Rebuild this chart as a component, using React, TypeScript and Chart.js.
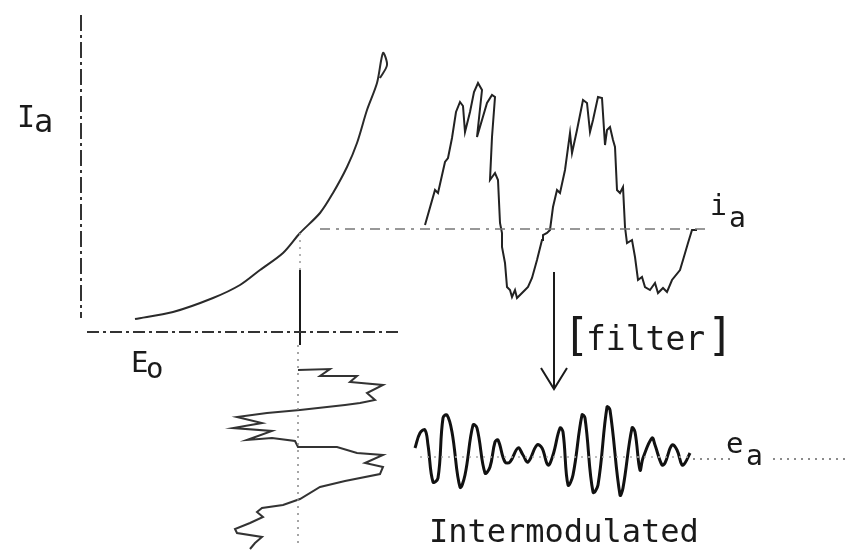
import React, { useEffect, useRef } from "react";
import { Chart, registerables } from "chart.js";

Chart.register(...registerables);

// ---------- DATA (diagram units) ----------
// Anode characteristic: anode voltage E vs anode current I
const ivE = [5.4, 9.2, 13.2, 15.9, 17.9, 20.2, 21.9, 23.9, 25.2, 26.6, 27.6, 28.6, 29.6, 30.2, 30.6, 29.9];
const ivI = [1.3, 2.0, 3.4, 4.7, 6.2, 7.9, 9.9, 11.9, 13.9, 16.5, 18.9, 22.2, 24.9, 27.9, 26.7, 25.4];

// Anode current waveform i_a (time, deviation)
const iaT = [0.0, 1.0, 1.3, 2.0, 2.3, 2.7, 3.1, 3.5, 3.8, 4.0, 4.5, 4.9, 5.3, 5.7, 5.2, 6.2, 6.7, 7.0, 6.7, 6.5, 7.0, 7.3, 7.5, 7.7, 7.7, 8.0, 8.2, 8.5, 8.7, 9.0, 9.2, 9.7, 10.0, 10.3, 10.7, 11.2, 11.7, 11.8, 12.2, 12.5, 12.8, 13.2, 13.5, 14.0, 14.5, 14.7, 15.2, 15.8, 16.2, 16.5, 16.8, 17.3, 17.7, 18.0, 18.2, 18.5, 18.8, 19.0, 19.2, 19.5, 19.8, 20.0, 20.2, 20.7, 21.0, 21.3, 21.7, 22.0, 22.5, 23.0, 23.3, 23.8, 24.2, 24.7, 25.5, 25.8, 26.3, 26.7, 27.2];
const iaV = [0.4, 3.9, 3.6, 6.7, 7.1, 9.1, 11.7, 12.7, 12.3, 9.7, 11.7, 13.7, 14.6, 13.9, 9.2, 12.6, 13.4, 13.2, 9.2, 4.9, 5.6, 4.9, 0.6, -0.4, -1.8, -3.4, -5.8, -6.1, -6.8, -6.1, -6.9, -6.4, -6.1, -5.8, -4.9, -3.1, -1.1, -0.6, -0.4, -0.1, 2.2, 3.9, 3.6, 5.9, 9.6, 7.6, 9.9, 12.9, 12.6, 9.7, 10.9, 13.2, 13.1, 8.4, 9.9, 10.2, 8.9, 8.2, 3.9, 3.6, 4.2, 0.2, -1.4, -1.1, -2.8, -5.1, -4.8, -5.8, -6.1, -5.4, -6.4, -5.9, -6.3, -5.1, -4.1, -3.1, -1.4, -0.1, -0.1];

// Input grid signal (time downward, deviation sideways)
const inT = [3.0, 2.9, 3.6, 3.6, 4.2, 4.5, 5.3, 6.0, 6.3, 6.5, 7.0, 7.3, 7.7, 8.3, 8.8, 9.1, 10.0, 9.8, 10.1, 10.7, 10.7, 11.3, 11.5, 12.3, 12.7, 13.4, 14.1, 14.7, 15.9, 16.5, 16.8, 17.2, 17.7, 18.3, 18.9, 19.3, 19.7, 20.3, 20.9];
const inV = [0.0, 3.2, 2.2, 5.9, 5.2, 8.5, 6.9, 7.7, 6.2, 4.7, 0.2, -3.1, -6.1, -3.6, -6.5, -2.6, -5.1, -2.6, -0.3, 0.0, 3.9, 5.9, 8.5, 6.7, 8.5, 8.2, 4.7, 2.2, 0.2, -1.5, -3.6, -4.1, -3.5, -4.8, -6.3, -6.1, -3.6, -4.3, -4.8];

// Filtered, intermodulated output e_a
const eaT = [0.0, 0.5, 1.0, 1.3, 1.8, 2.3, 2.8, 3.2, 3.7, 4.5, 5.0, 5.8, 6.2, 7.0, 7.5, 8.0, 8.3, 9.0, 9.5, 10.3, 10.8, 11.3, 12.2, 12.7, 13.3, 13.8, 14.5, 14.8, 15.3, 15.8, 16.7, 17.0, 17.8, 18.3, 19.2, 19.5, 20.5, 20.8, 21.7, 22.0, 22.5, 22.8, 23.7, 24.0, 24.7, 25.0, 25.7, 26.2, 26.7, 27.0, 27.5];
const eaV = [0.9, 2.4, 2.7, 1.2, -2.5, -2.1, 3.9, 4.2, 2.5, -3.0, -1.8, 3.2, 2.9, -1.6, -1.0, 1.5, 1.7, -0.5, -0.5, 0.9, 0.2, -0.5, 1.2, 0.9, -0.8, 0.2, 2.9, 2.5, -2.8, -1.8, 4.2, 3.9, -3.5, -2.8, 5.0, 4.7, -3.8, -3.1, 2.9, 2.5, -1.3, -0.1, 1.9, 1.2, -0.8, -0.6, 1.2, 0.7, -0.8, -0.6, 0.4];

// ---------- LAYOUT (diagram frame) ----------
const X_MAX = 84.9;
const Y_MAX = 55;
const IV_O = { x: 8.1, y: 21.8 };
const IA_O = { x: 42.5, y: 32.1 };
const IN_O = { x: 29.8, y: 21.0 };
const EA_O = { x: 41.5, y: 9.3 };

const INK = "#1a1a1a";

type P = { x: number; y: number };
const pts = (xs: number[], ys: number[], o: P): P[] => xs.map((v, i) => ({ x: o.x + v, y: o.y + ys[i] }));
const vpts = (ts: number[], vs: number[], o: P): P[] => ts.map((t, i) => ({ x: o.x + vs[i], y: o.y - t }));

const labels = [
  { text: "I", x: 1.7, y: 42.3, size: 30 },
  { text: "a", x: 3.4, y: 41.8, size: 32 },
  { text: "E", x: 13.1, y: 17.8, size: 29 },
  { text: "o", x: 14.6, y: 17.2, size: 29 },
  { text: "i", x: 71.0, y: 33.5, size: 28 },
  { text: "a", x: 72.9, y: 32.3, size: 28 },
  { text: "e", x: 72.6, y: 9.7, size: 29 },
  { text: "a", x: 74.6, y: 8.5, size: 28 },
  { text: "[", x: 56.3, y: 20.0, size: 44 },
  { text: "filter", x: 58.6, y: 20.0, size: 33 },
  { text: "]", x: 70.7, y: 20.0, size: 44 },
  { text: "Intermodulated", x: 42.9, y: 0.8, size: 32 },
];

const textPlugin = {
  id: "diagramText",
  afterDatasetsDraw(chart: any) {
    const { ctx, scales } = chart;
    ctx.save();
    ctx.fillStyle = INK;
    ctx.textBaseline = "alphabetic";
    ctx.textAlign = "left";
    for (const l of labels) {
      ctx.font = `${l.size}px "DejaVu Sans Mono", monospace`;
      ctx.fillText(l.text, scales.x.getPixelForValue(l.x), scales.y.getPixelForValue(l.y));
    }
    ctx.restore();
  },
};

function line(data: P[], opts: any = {}) {
  return {
    data,
    showLine: true,
    pointRadius: 0,
    borderColor: INK,
    borderWidth: 2,
    tension: 0,
    fill: false,
    ...opts,
  };
}

export default function App() {
  const ref = useRef<HTMLCanvasElement | null>(null);
  useEffect(() => {
    if (!ref.current) return;
    const datasets = [
      // I axis
      line([{ x: IV_O.x, y: IV_O.y + 31.7 }, { x: IV_O.x, y: IV_O.y + 1.4 }], { borderDash: [16, 4, 3, 4], borderColor: "#333" }),
      // E axis
      line([{ x: IV_O.x + 0.6, y: IV_O.y }, { x: IV_O.x + 31.9, y: IV_O.y }], { borderDash: [12, 4, 3, 4], borderColor: "#333" }),
      // operating point vertical
      line([{ x: IV_O.x + 21.9, y: IV_O.y + 9.9 }, { x: IV_O.x + 21.9, y: IV_O.y + 6.2 }], { borderDash: [2, 5], borderColor: "#999", borderWidth: 1.5 }),
      line([{ x: IV_O.x + 21.9, y: IV_O.y + 6.2 }, { x: IV_O.x + 21.9, y: IV_O.y - 1.3 }], { borderWidth: 2 }),
      // i_a baseline
      line([{ x: IV_O.x + 23.9, y: IA_O.y }, { x: IV_O.x + 62.9, y: IA_O.y }], { borderDash: [10, 6, 3, 6], borderColor: "#777", borderWidth: 1.5 }),
      // input center line
      line([{ x: IN_O.x, y: IN_O.y - 0.5 }, { x: IN_O.x, y: IN_O.y - 20.8 }], { borderDash: [2, 5], borderColor: "#888", borderWidth: 1.5 }),
      // e_a center lines
      line([{ x: EA_O.x + 0.5, y: EA_O.y }, { x: EA_O.x + 27.5, y: EA_O.y }], { borderDash: [2, 5], borderColor: "#aaa", borderWidth: 1.5 }),
      line([{ x: EA_O.x + 27.8, y: EA_O.y - 0.2 }, { x: EA_O.x + 32.0, y: EA_O.y - 0.2 }], { borderDash: [2, 5], borderColor: "#666", borderWidth: 1.5 }),
      line([{ x: EA_O.x + 35.8, y: EA_O.y - 0.2 }, { x: EA_O.x + 43.0, y: EA_O.y - 0.2 }], { borderDash: [2, 5], borderColor: "#666", borderWidth: 1.5 }),
      // arrow
      line([{ x: 55.4, y: 27.8 }, { x: 55.4, y: 16.2 }], { borderWidth: 2 }),
      line([{ x: 54.1, y: 18.2 }, { x: 55.4, y: 16.1 }, { x: 56.7, y: 18.2 }], { borderWidth: 2 }),
      // curves
      line(pts(ivE, ivI, IV_O), { borderWidth: 2, tension: 0.3, borderColor: "#2a2a2a" }),
      line(pts(iaT, iaV, IA_O), { borderWidth: 2, borderColor: "#222" }),
      line(vpts(inT, inV, IN_O), { borderWidth: 2, borderColor: "#333" }),
      line(pts(eaT, eaV, EA_O), { borderWidth: 3, tension: 0.4, borderColor: "#111" }),
    ];
    const chart = new Chart(ref.current, {
      type: "scatter",
      data: { datasets },
      options: {
        animation: false,
        responsive: false,
        devicePixelRatio: 1,
        layout: { padding: 0 },
        plugins: { legend: { display: false }, tooltip: { enabled: false }, title: { display: false } },
        scales: {
          x: { type: "linear", min: 0, max: X_MAX, display: false },
          y: { type: "linear", min: 0, max: Y_MAX, display: false },
        },
      },
      plugins: [textPlugin],
    });
    return () => chart.destroy();
  }, []);
  return (
    <div style={{ position: "fixed", left: 0, top: 0, width: 849, height: 550, background: "#fff" }}>
      <canvas ref={ref} width={849} height={550} />
    </div>
  );
}
